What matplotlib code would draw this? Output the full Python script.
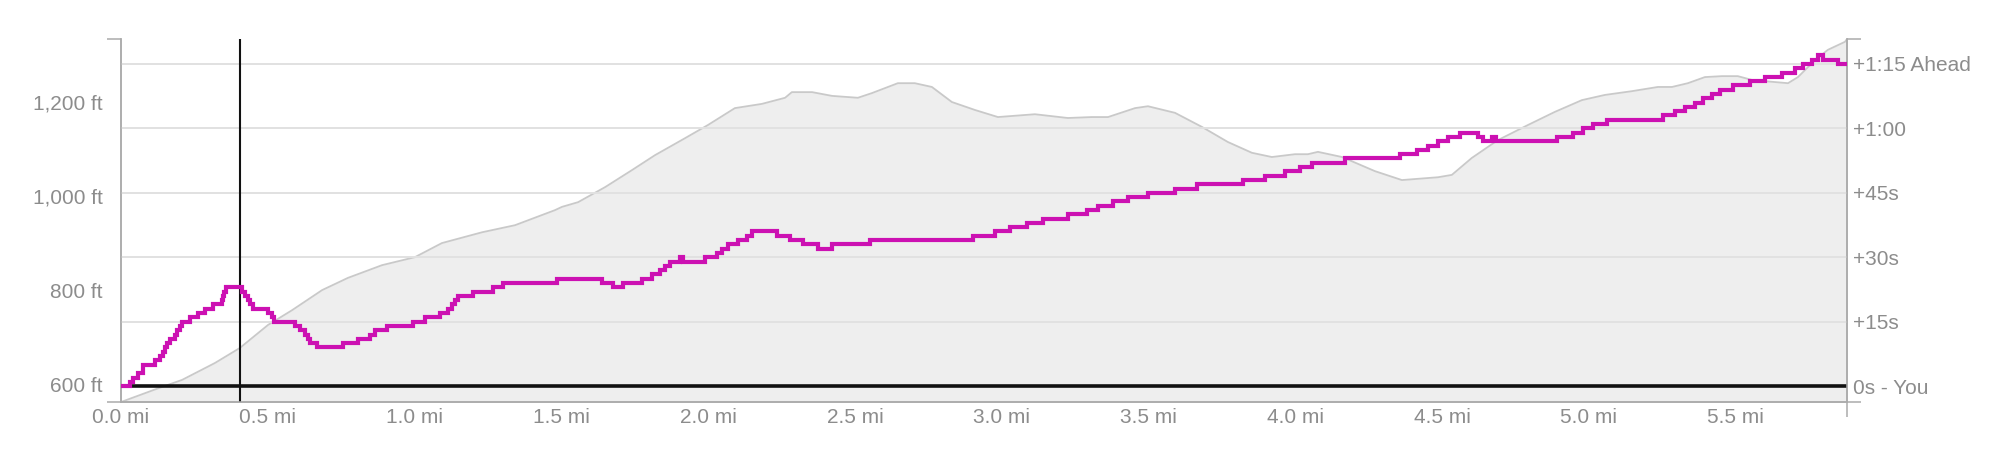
import numpy as np
import matplotlib
matplotlib.use("Agg")
import matplotlib.pyplot as plt

plt.rcParams['font.family'] = ['Liberation Sans', 'DejaVu Sans']

# elevation profile (miles, feet)
elev_mi = [0.0, 0.126, 0.208, 0.320, 0.405, 0.501, 0.582, 0.685, 0.773, 0.889,
           1.001, 1.093, 1.230, 1.342, 1.478, 1.502, 1.557, 1.649, 1.740, 1.819,
           1.921, 1.999, 2.091, 2.183, 2.262, 2.285, 2.354, 2.422, 2.510, 2.558,
           2.646, 2.704, 2.762, 2.830, 2.909, 2.987, 3.113, 3.225, 3.307, 3.362,
           3.454, 3.498, 3.590, 3.682, 3.770, 3.852, 3.920, 3.999, 4.043, 4.077,
           4.159, 4.271, 4.363, 4.486, 4.533, 4.601, 4.690, 4.792, 4.884, 4.976,
           5.054, 5.146, 5.235, 5.283, 5.337, 5.395, 5.453, 5.507, 5.555, 5.623,
           5.678, 5.712, 5.770, 5.814, 5.872, 5.879]
elev_ft = [562, 591, 609, 645, 677, 726, 757, 800, 826, 853,
           870, 900, 923, 938, 970, 977, 987, 1019, 1055, 1087,
           1123, 1151, 1187, 1196, 1209, 1221, 1221, 1213, 1209, 1219,
           1240, 1240, 1232, 1200, 1183, 1168, 1174, 1166, 1168, 1168,
           1187, 1191, 1177, 1147, 1115, 1092, 1083, 1089, 1089, 1094,
           1083, 1053, 1034, 1040, 1045, 1081, 1119, 1151, 1179, 1204,
           1215, 1223, 1232, 1232, 1240, 1253, 1255, 1255, 1247, 1243,
           1240, 1253, 1289, 1311, 1328, 1334]

# time ahead of you (miles, seconds), step changes
gap_mi = [0.0, 0.031, 0.041, 0.058, 0.075, 0.116, 0.133, 0.143, 0.150, 0.157,
          0.167, 0.184, 0.191, 0.201, 0.208, 0.235, 0.262, 0.286, 0.313, 0.344,
          0.347, 0.351, 0.358, 0.412, 0.422, 0.433, 0.439, 0.450, 0.501, 0.514,
          0.521, 0.593, 0.610, 0.627, 0.637, 0.644, 0.668, 0.756, 0.807, 0.848,
          0.865, 0.906, 0.995, 1.035, 1.087, 1.114, 1.127, 1.138, 1.148, 1.199,
          1.267, 1.301, 1.485, 1.638, 1.676, 1.710, 1.775, 1.809, 1.836, 1.853,
          1.870, 1.904, 1.914, 1.989, 2.030, 2.047, 2.067, 2.101, 2.132, 2.149,
          2.234, 2.279, 2.323, 2.374, 2.422, 2.551, 2.902, 2.977, 3.028, 3.086,
          3.140, 3.225, 3.290, 3.328, 3.379, 3.430, 3.498, 3.590, 3.665, 3.822,
          3.896, 3.965, 4.016, 4.057, 4.169, 4.356, 4.414, 4.452, 4.486, 4.520,
          4.561, 4.622, 4.639, 4.670, 4.683, 4.891, 4.945, 4.980, 5.014, 5.061,
          5.252, 5.293, 5.327, 5.361, 5.388, 5.419, 5.446, 5.490, 5.548, 5.599,
          5.657, 5.701, 5.729, 5.759, 5.780, 5.797, 5.848, 5.879]
gap_s = [0, 1, 2, 3, 5, 6, 7, 8, 9, 10,
         11, 12, 13, 14, 15, 16, 17, 18, 19, 20,
         21, 22, 23, 22, 21, 20, 19, 18, 17, 16,
         15, 14, 13, 12, 11, 10, 9, 10, 11, 12,
         13, 14, 15, 16, 17, 18, 19, 20, 21, 22,
         23, 24, 25, 24, 23, 24, 25, 26, 27, 28,
         29, 30, 29, 30, 31, 32, 33, 34, 35, 36,
         35, 34, 33, 32, 33, 34, 35, 36, 37, 38,
         39, 40, 41, 42, 43, 44, 45, 46, 47, 48,
         49, 50, 51, 52, 53, 54, 55, 56, 57, 58,
         59, 58, 57, 58, 57, 58, 59, 60, 61, 62,
         63, 64, 65, 66, 67, 68, 69, 70, 71, 72,
         73, 74, 75, 76, 77, 76, 75, 75]

marker_mi = 0.405

dist_ticks = [0.0, 0.5, 1.0, 1.5, 2.0, 2.5, 3.0, 3.5, 4.0, 4.5, 5.0, 5.5]
dist_labels = ["0.0 mi", "0.5 mi", "1.0 mi", "1.5 mi", "2.0 mi", "2.5 mi",
               "3.0 mi", "3.5 mi", "4.0 mi", "4.5 mi", "5.0 mi", "5.5 mi"]
elev_ticks = [600, 800, 1000, 1200]
elev_labels = ["600 ft", "800 ft", "1,000 ft", "1,200 ft"]
gap_ticks = [0, 15, 30, 45, 60, 75]
gap_labels = ["0s - You", "+15s", "+30s", "+45s", "+1:00", "+1:15 Ahead"]

txt = '#8c8c8c'
spine = '#ababab'
fs = 15

fig = plt.figure(figsize=(20, 4.54), dpi=100)
ax = fig.add_axes([0.0605, 0.1145, 0.863, 0.7996])
ax2 = ax.twinx()

x0, x1 = 0, max(elev_mi)
ax.set_xlim(x0, x1)
ax.set_ylim(min(elev_ft), max(elev_ft))
ax2.set_ylim(-3.7, 80.8)

ax.fill_between(elev_mi, elev_ft, min(elev_ft), color='#eeeeee', lw=0)
ax.plot(elev_mi, elev_ft, color='#c9c9c9', lw=1.3)

ax2.set_axisbelow(True)
ax2.grid(True, axis='both', color='#e1e1e1', lw=1.4)
ax2.set_xticks(dist_ticks)
ax2.axhline(0, color='#111111', lw=2.6, zorder=2)
ax2.axvline(marker_mi, color='#111111', lw=1.5, zorder=2)
ax2.plot(gap_mi, gap_s, color='#cc11b2', lw=3.0, drawstyle='steps-post', zorder=3,
         solid_joinstyle='miter')

ax.set_xticks(dist_ticks)
ax.set_xticklabels(dist_labels)
ax.set_yticks(elev_ticks)
ax.set_yticklabels(elev_labels)
ax2.set_yticks(gap_ticks)
ax2.set_yticklabels(gap_labels)

ax.tick_params(axis='x', length=0, pad=4.5, labelsize=fs, labelcolor=txt)
ax.tick_params(axis='y', length=0, pad=13, labelsize=fs, labelcolor=txt)
ax2.tick_params(axis='y', length=0, pad=4.5, labelsize=fs, labelcolor=txt)
ax2.tick_params(axis='x', length=0, labelbottom=False)

# end caps on the axis lines
ax.set_yticks([min(elev_ft), max(elev_ft)], minor=True)
ax.tick_params(axis='y', which='minor', length=10, width=1.1, color=spine)
ax2.set_yticks([-3.7, 80.8], minor=True)
ax2.tick_params(axis='y', which='minor', length=10, width=1.1, color=spine)
ax.set_xticks([x1], minor=True)
ax.tick_params(axis='x', which='minor', length=11, width=1.1, color=spine)

for a in (ax, ax2):
    a.spines['top'].set_visible(False)
    for s in ('left', 'right', 'bottom'):
        a.spines[s].set_color(spine)
        a.spines[s].set_linewidth(1.1)

fig.savefig('out.png', dpi=100, facecolor='white')
